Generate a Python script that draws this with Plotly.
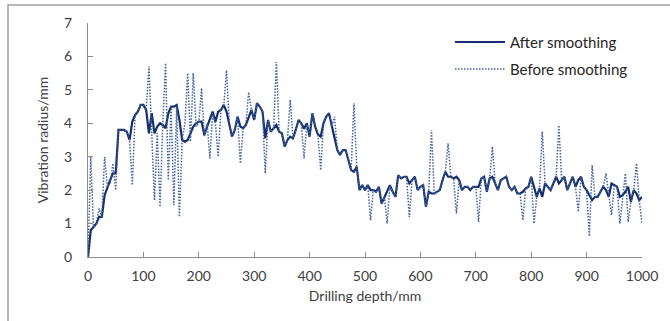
import plotly.graph_objects as go

depth = list(range(0, 1001, 5))

after_smoothing = [
    0, 0.8, 0.9, 1.0, 1.2, 1.2, 1.85, 2.1, 2.3, 2.5,
    2.5, 3.8, 3.8, 3.8, 3.75, 3.5, 4.05, 4.25, 4.35, 4.55,
    4.55, 4.4, 3.7, 4.3, 3.7, 3.9, 4.0, 3.95, 3.85, 4.3,
    4.5, 4.5, 4.55, 4.1, 3.5, 3.45, 3.5, 3.7, 3.9, 4.0,
    4.05, 4.05, 3.65, 3.9, 4.1, 4.35, 4.05, 4.35, 4.4, 4.55,
    4.35, 3.95, 3.6, 3.8, 4.2, 3.9, 3.85, 3.95, 4.2, 4.4,
    4.1, 4.6, 4.5, 4.35, 3.55, 4.1, 3.75, 3.85, 3.95, 3.75,
    3.7, 3.3, 3.5, 3.6, 3.55, 3.8, 4.1, 4.0, 3.84, 4.0,
    3.6, 4.3, 3.9, 3.67, 3.6, 4.0, 4.2, 4.3, 3.9, 3.5,
    3.2, 3.05, 3.2, 3.2, 2.9, 2.6, 2.55, 2.7, 2.0, 2.15,
    2.0, 2.15, 2.0, 2.0, 1.95, 2.1, 1.6, 1.8, 2.0, 2.15,
    1.95, 1.8, 2.45, 2.35, 2.4, 2.4, 2.2, 2.3, 2.4, 2.0,
    2.1, 2.15, 1.5, 1.95, 1.9, 1.9, 1.95, 2.0, 2.3, 2.55,
    2.4, 2.4, 2.35, 2.4, 2.3, 2.0, 2.1, 2.1, 2.0, 2.1,
    2.1, 2.1, 2.35, 2.4, 1.95, 2.35, 2.4, 2.2, 2.0, 2.3,
    2.35, 2.4, 2.1, 2.0, 2.1, 1.9, 1.9, 1.95, 2.05, 2.1,
    2.4, 2.1, 1.8, 2.05, 1.8, 2.2, 2.1, 2.0, 2.2, 2.4,
    2.2, 2.3, 2.4, 2.0, 2.2, 2.4, 2.1, 2.3, 2.4, 2.1,
    2.0, 1.85, 1.7, 1.8, 1.8, 1.95, 2.1, 2.0, 1.8, 2.2,
    2.15, 2.1, 1.8, 1.85, 1.95, 2.1, 1.65, 2.0, 1.9, 1.7,
    1.8,
]

before_smoothing = [
    0, 3.0, 0.85, 1.0, 1.45, 1.2, 3.0, 2.1, 2.2, 2.8,
    2.0, 3.8, 3.8, 3.8, 3.75, 3.5, 2.15, 4.25, 4.35, 4.55,
    4.55, 4.4, 5.7, 3.5, 1.7, 3.7, 1.5, 4.0, 5.8, 2.3,
    4.5, 1.55, 4.5, 1.2, 3.5, 4.0, 5.5, 3.45, 5.5, 3.9,
    4.0, 5.05, 3.6, 4.0, 2.95, 4.3, 4.0, 3.0, 4.4, 4.5,
    5.58, 4.0, 3.6, 3.8, 4.2, 2.8, 3.85, 3.95, 4.93, 4.4,
    4.1, 4.6, 4.5, 4.35, 2.5, 4.1, 3.75, 3.85, 5.83, 3.75,
    3.7, 3.3, 3.5, 4.7, 3.55, 3.8, 4.1, 4.0, 2.95, 4.0,
    3.6, 4.3, 3.9, 3.67, 2.6, 4.0, 4.2, 4.3, 3.9, 4.2,
    3.2, 3.05, 3.2, 3.2, 2.9, 2.6, 4.6, 2.7, 2.0, 2.15,
    2.0, 2.15, 1.1, 2.0, 1.95, 2.1, 1.6, 1.8, 1.0, 2.15,
    1.95, 1.8, 2.45, 2.35, 2.4, 2.4, 1.2, 2.3, 2.4, 2.0,
    2.1, 2.15, 1.5, 1.95, 3.8, 1.9, 1.95, 2.0, 2.3, 2.55,
    3.4, 2.4, 2.35, 1.3, 2.3, 2.0, 2.1, 2.1, 2.0, 2.1,
    2.1, 1.05, 2.35, 2.4, 1.95, 2.35, 3.3, 2.2, 2.0, 2.3,
    2.35, 2.4, 2.1, 2.0, 2.1, 1.9, 1.9, 1.1, 2.05, 2.1,
    2.4, 1.0, 1.8, 2.05, 3.75, 2.2, 2.1, 2.0, 2.2, 2.4,
    3.94, 2.3, 2.4, 2.0, 2.2, 2.4, 2.1, 1.35, 2.4, 2.1,
    2.0, 0.62, 2.75, 1.8, 1.8, 1.95, 2.1, 2.5, 1.8, 1.25,
    2.15, 2.1, 1.0, 1.85, 2.5, 1.05, 1.65, 2.0, 2.8, 1.7,
    1.0,
]

series_names = ["After smoothing", "Before smoothing"]
x_ticks = list(range(0, 1001, 100))
y_ticks = list(range(0, 8))

FONT = "Lato, 'Open Sans', sans-serif"
C_AFTER = "#142f6b"
C_BEFORE = "#40609e"
DOT = "1.5px,1.5px"

fig = go.Figure()
fig.add_trace(go.Scatter(
    x=depth, y=after_smoothing, mode="lines", name=series_names[0],
    line=dict(color=C_AFTER, width=2.2), showlegend=False,
))
fig.add_trace(go.Scatter(
    x=depth, y=before_smoothing, mode="lines", name=series_names[1],
    line=dict(color=C_BEFORE, width=1.5, dash=DOT), showlegend=False,
))

axis_common = dict(
    showgrid=False, zeroline=False, showline=True, automargin=False,
    linecolor="#8c8c8c", linewidth=1, ticks="inside", ticklen=5,
    tickcolor="#8c8c8c", tickfont=dict(family=FONT, size=14, color="#404040"),
)

# manual legend (styling only)
leg_rows = [0.9188, 0.8034]
shapes = [dict(type="rect", xref="paper", yref="paper",
               x0=-0.1444, x1=1.3, y0=-0.6, y1=1.077,
               line=dict(color="#a0a0a0", width=1.5), layer="above")]
annotations = []
styles = [dict(color=C_AFTER, width=2.2, dash="solid"),
          dict(color=C_BEFORE, width=1.5, dash=DOT)]
for name, yy, st in zip(series_names, leg_rows, styles):
    shapes.append(dict(type="line", xref="paper", yref="paper",
                       x0=0.6625, x1=0.7527, y0=yy, y1=yy, line=st))
    annotations.append(dict(xref="paper", yref="paper", x=0.758, y=yy,
                            xanchor="left", yanchor="middle", showarrow=False,
                            text=name, font=dict(family=FONT, size=15, color="#262626")))

fig.update_layout(
    width=670, height=321,
    margin=dict(l=88, r=28, t=23, b=64),
    paper_bgcolor="white", plot_bgcolor="white",
    font=dict(family=FONT, color="#404040"),
    xaxis=dict(range=[0, 1000], tickvals=x_ticks, ticklabelstandoff=6,
               title=dict(text="Drilling depth/mm", font=dict(family=FONT, size=14, color="#404040"), standoff=8),
               **axis_common),
    yaxis=dict(range=[0, 7], tickvals=y_ticks, ticklabelstandoff=12,
               title=dict(text="Vibration radius/mm", font=dict(family=FONT, size=14, color="#404040"), standoff=12),
               **axis_common),
    showlegend=False,
    shapes=shapes,
    annotations=annotations,
)

fig.write_html("out.html", config={"displayModeBar": False},
               post_script="document.body.style.margin='0px';document.body.style.overflow='hidden';")
